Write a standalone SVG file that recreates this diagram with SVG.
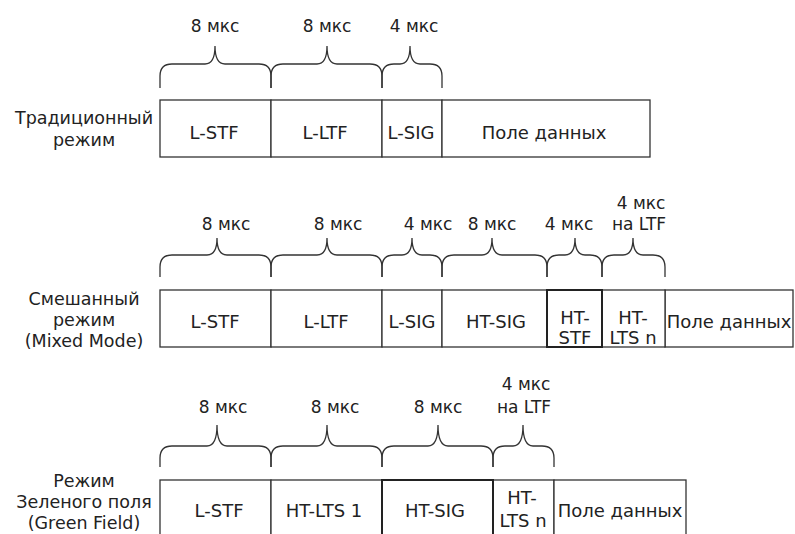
<svg xmlns="http://www.w3.org/2000/svg" width="795" height="534" viewBox="0 0 795 534">
<style>
text{font-family:"DejaVu Sans","Liberation Sans",sans-serif;fill:#222}
.lbl{font-size:17.5px;text-anchor:middle}
.dur{font-size:17px;text-anchor:middle}
.cell{font-size:18px;text-anchor:middle}
.box{fill:#fff;stroke:#333;stroke-width:1.3}
.bold{fill:#fff;stroke:#222;stroke-width:2}
.brace{fill:none;stroke:#333;stroke-width:1.3}
</style>
<rect width="795" height="534" fill="#fff"/>

<!-- Row 1 -->
<g id="mode-legacy">
<text class="lbl" x="84" y="124">Традиционный</text>
<text class="lbl" x="84" y="146">режим</text>
</g>
<g id="r1-lstf"><rect class="box" x="160" y="100" width="111" height="57"/><text class="cell" x="214" y="139">L-STF</text></g>
<g id="r1-lltf"><rect class="box" x="271" y="100" width="111" height="57"/><text class="cell" x="325" y="139">L-LTF</text></g>
<g id="r1-lsig"><rect class="box" x="382" y="100" width="60" height="57"/><text class="cell" x="411" y="139">L-SIG</text></g>
<g id="r1-data"><rect class="box" x="442" y="100" width="208" height="57"/><text class="cell" x="544" y="139">Поле данных</text></g>

<!-- Row 2 -->
<g id="mode-mixed">
<text class="lbl" x="84" y="305">Смешанный</text>
<text class="lbl" x="84" y="326">режим</text>
<text class="lbl" x="84" y="347">(Mixed Mode)</text>
</g>
<g id="r2-lstf"><rect class="box" x="160" y="290" width="111" height="57"/><text class="cell" x="215" y="328">L-STF</text></g>
<g id="r2-lltf"><rect class="box" x="271" y="290" width="111" height="57"/><text class="cell" x="326" y="328">L-LTF</text></g>
<g id="r2-lsig"><rect class="box" x="382" y="290" width="60" height="57"/><text class="cell" x="412" y="328">L-SIG</text></g>
<g id="r2-htsig"><rect class="box" x="442" y="290" width="105" height="57"/><text class="cell" x="496" y="328">HT-SIG</text></g>
<g id="r2-data"><rect class="box" x="665" y="290" width="128" height="57"/><text class="cell" x="729" y="328">Поле данных</text></g>
<g id="r2-htltsn"><rect class="box" x="602" y="290" width="63" height="57"/><text class="cell" x="633" y="324">HT-</text><text class="cell" x="633" y="344">LTS n</text></g>
<g id="r2-htstf"><rect class="bold" x="547" y="290" width="55" height="57"/><text class="cell" x="575" y="324">HT-</text><text class="cell" x="575" y="344">STF</text></g>

<!-- Row 3 -->
<g id="mode-greenfield">
<text class="lbl" x="84" y="487">Режим</text>
<text class="lbl" x="84" y="508">Зеленого поля</text>
<text class="lbl" x="84" y="529">(Green Field)</text>
</g>
<g id="r3-lstf"><rect class="box" x="160" y="480" width="111" height="57"/><text class="cell" x="219" y="517">L-STF</text></g>
<g id="r3-htlts1"><rect class="box" x="271" y="480" width="111" height="57"/><text class="cell" x="324" y="517">HT-LTS 1</text></g>
<g id="r3-htltsn"><rect class="box" x="493" y="480" width="61" height="57"/><text class="cell" x="522" y="504">HT-</text><text class="cell" x="523" y="527">LTS n</text></g>
<g id="r3-data"><rect class="box" x="554" y="480" width="132" height="57"/><text class="cell" x="620" y="517">Поле данных</text></g>
<g id="r3-htsig"><rect class="bold" x="382" y="480" width="111" height="57"/><text class="cell" x="435" y="517">HT-SIG</text></g>

<!-- Braces with durations -->
<g id="braces">
<path class="brace" d="M160,88 V76 Q160,64 172,64 H205 Q215,64 215,46 Q215,64 225,64 H259 Q271,64 271,76 V88"/>
<path class="brace" d="M271,88 V76 Q271,64 283,64 H317 Q327,64 327,46 Q327,64 337,64 H370 Q382,64 382,76 V88"/>
<path class="brace" d="M382,88 V76 Q382,64 394,64 H400 Q410,64 410,46 Q410,64 420,64 H430 Q442,64 442,76 V88"/>
<path class="brace" d="M160,277 V267 Q160,255 172,255 H207 Q217,255 217,238 Q217,255 227,255 H259 Q271,255 271,267 V277"/>
<path class="brace" d="M271,277 V267 Q271,255 283,255 H317 Q327,255 327,238 Q327,255 337,255 H370 Q382,255 382,267 V277"/>
<path class="brace" d="M382,277 V267 Q382,255 394,255 H402 Q412,255 412,238 Q412,255 422,255 H430 Q442,255 442,267 V277"/>
<path class="brace" d="M442,277 V267 Q442,255 454,255 H482 Q492,255 492,238 Q492,255 502,255 H535 Q547,255 547,267 V277"/>
<path class="brace" d="M547,277 V267 Q547,255 559,255 H565 Q575,255 575,238 Q575,255 585,255 H590 Q602,255 602,267 V277"/>
<path class="brace" d="M602,277 V267 Q602,255 614,255 H623 Q633,255 633,238 Q633,255 643,255 H653 Q665,255 665,267 V277"/>
<path class="brace" d="M160,467 V458 Q160,446 172,446 H207 Q217,446 217,425 Q217,446 227,446 H259 Q271,446 271,458 V467"/>
<path class="brace" d="M271,467 V458 Q271,446 283,446 H317 Q327,446 327,425 Q327,446 337,446 H370 Q382,446 382,458 V467"/>
<path class="brace" d="M382,467 V458 Q382,446 394,446 H428 Q438,446 438,425 Q438,446 448,446 H481 Q493,446 493,458 V467"/>
<path class="brace" d="M493,467 V458 Q493,446 505,446 H513 Q523,446 523,425 Q523,446 533,446 H542 Q554,446 554,458 V467"/>
</g>

<g id="durations">
<text class="dur" x="215" y="32">8 мкс</text>
<text class="dur" x="327" y="32">8 мкс</text>
<text class="dur" x="414" y="32">4 мкс</text>

<text class="dur" x="226" y="230">8 мкс</text>
<text class="dur" x="338" y="230">8 мкс</text>
<text class="dur" x="428" y="230">4 мкс</text>
<text class="dur" x="492" y="230">8 мкс</text>
<text class="dur" x="569" y="230">4 мкс</text>
<text class="dur" x="641" y="209">4 мкс</text>
<text class="dur" x="639" y="230">на LTF</text>

<text class="dur" x="223" y="413">8 мкс</text>
<text class="dur" x="335" y="413">8 мкс</text>
<text class="dur" x="438" y="413">8 мкс</text>
<text class="dur" x="526" y="390">4 мкс</text>
<text class="dur" x="524" y="413">на LTF</text>
</g>
</svg>
